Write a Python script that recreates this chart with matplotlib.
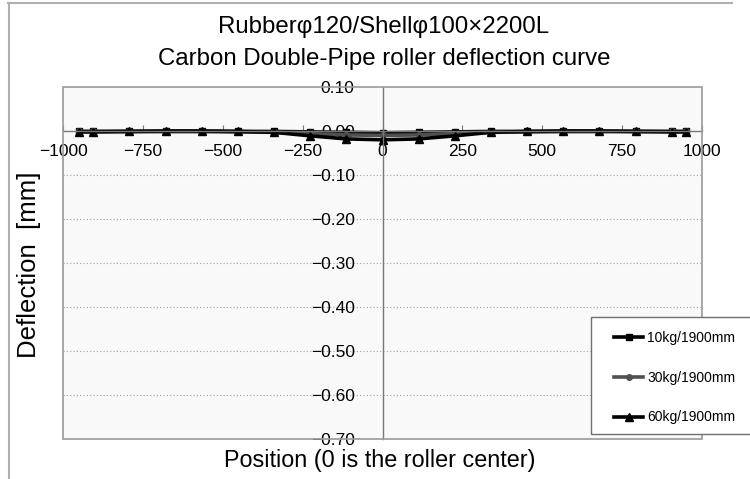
import numpy as np
import matplotlib
matplotlib.use("Agg")
import matplotlib.pyplot as plt
from matplotlib.patches import Rectangle
from matplotlib.lines import Line2D

plt.rcParams['font.family'] = ['Liberation Sans', 'DejaVu Sans']

# measured positions [mm] and deflections [mm]
position = [-950, -905, -792, -679, -565, -452, -339, -226, -113, 0,
            113, 226, 339, 452, 565, 679, 792, 905, 950]
defl_10kg = [-0.001, -0.001, -0.001, -0.001, -0.001, -0.001, -0.001, -0.002, -0.003, -0.004,
             -0.003, -0.002, -0.001, -0.001, -0.001, -0.001, -0.001, -0.001, -0.001]
defl_30kg = [-0.001, -0.001, -0.001, -0.001, -0.001, -0.002, -0.003, -0.006, -0.009, -0.010,
             -0.009, -0.006, -0.003, -0.002, -0.001, -0.001, -0.001, -0.001, -0.001]
defl_60kg = [-0.002, -0.002, -0.001, 0.000, 0.000, -0.001, -0.003, -0.011, -0.018, -0.020,
             -0.018, -0.011, -0.003, -0.001, 0.000, 0.000, -0.001, -0.002, -0.002]
labels = ['10kg/1900mm', '30kg/1900mm', '60kg/1900mm']

xticks = [-1000, -750, -500, -250, 0, 250, 500, 750, 1000]
yticks = [0.10, 0.0, -0.10, -0.20, -0.30, -0.40, -0.50, -0.60, -0.70]

W, H = 750, 479
fig = plt.figure(figsize=(7.5, 4.79), dpi=100)

# chart area border (cropped on right and bottom)
fig.add_artist(Line2D([8 / W, 732 / W], [1 - 3 / H, 1 - 3 / H], color='#b0b0b0', lw=1.5))
fig.add_artist(Line2D([8.5 / W, 8.5 / W], [0, 1 - 3 / H], color='#b0b0b0', lw=1.5))

ax = fig.add_axes([63 / W, 1 - 439 / H, (702 - 63) / W, (439 - 87) / H])
ax.set_facecolor('#f9f9f9')

ax.plot(position, defl_10kg, color='black', lw=2.6, marker='s', ms=5, label=labels[0])
ax.plot(position, defl_30kg, color='#505050', lw=2.6, marker='o', ms=4, label=labels[1])
ax.plot(position, defl_60kg, color='black', lw=2.6, marker='^', ms=6, label=labels[2])

ax.set_xlim(-1000, 1000)
ax.set_ylim(-0.70, 0.10)
ax.set_xticks(xticks)
ax.set_yticks(yticks)
ax.set_yticklabels([('%.2f' % v).replace('-', '\u2212') for v in yticks])
ax.set_xticklabels([str(v).replace('-', '\u2212') for v in xticks])

for v in yticks:
    if v not in (0.10, 0.0, -0.70):
        ax.axhline(v, color='#a0a0a0', lw=0.8, ls=(0, (1, 2)), zorder=0)

ax.spines['left'].set_position(('data', 0))
ax.spines['bottom'].set_position(('data', 0))
for s in ['left', 'bottom']:
    ax.spines[s].set_color('#777777')
    ax.spines[s].set_linewidth(1.0)
for s in ['top', 'right']:
    ax.spines[s].set_visible(False)
ax.add_patch(Rectangle((0, 0), 1, 1, transform=ax.transAxes, fill=False,
                       ec='#9a9a9a', lw=1.2, zorder=5, clip_on=False))

ax.tick_params(axis='x', direction='in', length=4, color='#777777', labelsize=12.5, pad=9)
ax.tick_params(axis='y', direction='in', length=0, color='#777777', labelsize=12.5, pad=20)

fig.text(0.512, 1 - 33 / H, 'Rubberφ120/Shellφ100×2200L', ha='center', va='baseline', fontsize=17.3)
fig.text(0.512, 1 - 65 / H, 'Carbon Double-Pipe roller deflection curve', ha='center', va='baseline',
         fontsize=17.3)
fig.text(0.507, 1 - 467 / H, 'Position (0 is the roller center)', ha='center', va='baseline',
         fontsize=16.8)
fig.text(29 / W, 1 - 265 / H, 'Deflection  [mm]', ha='center', va='center', rotation=90,
         fontsize=18.5)

leg = fig.legend(loc='upper left', bbox_to_anchor=(614 / W, 1 - 331 / H), fontsize=10,
                 labelspacing=1.85, borderpad=0, borderaxespad=0, handlelength=2.1,
                 handletextpad=0.3, frameon=False)
fig.add_artist(Rectangle((591 / W, 1 - 434 / H), (760 - 591) / W, (434 - 317) / H,
                         transform=fig.transFigure, fc='white', ec='#707070', lw=1.0,
                         zorder=1, clip_on=False))
leg.set_zorder(3)

fig.savefig('out.png', dpi=100)
